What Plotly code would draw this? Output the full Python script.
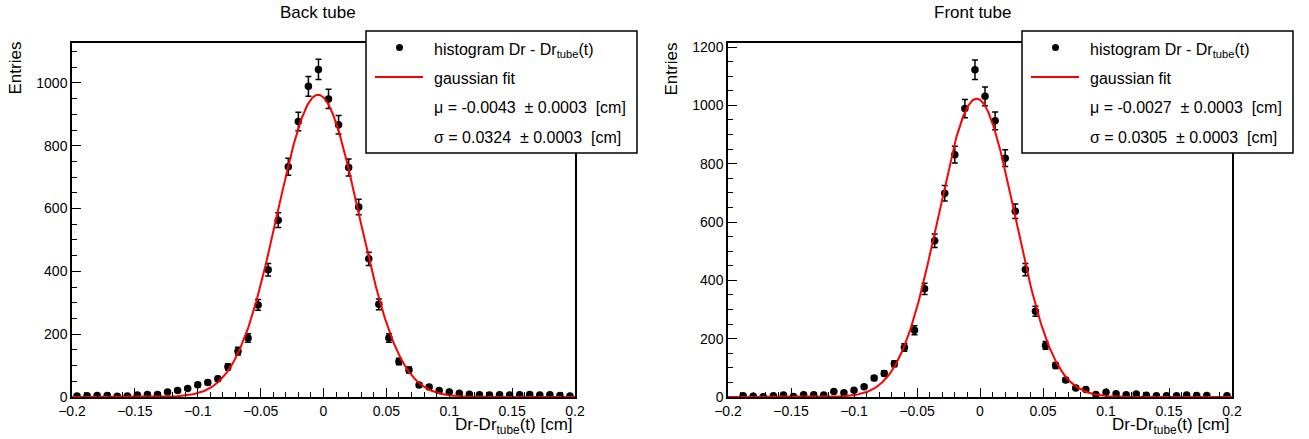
import numpy as np
import plotly.graph_objects as go

# ---------------- data ----------------
bin_edges_lo = -0.2
bin_width = 0.008
n_bins = 50
bin_centers = [round(bin_edges_lo + bin_width * (i + 0.5), 4) for i in range(n_bins)]

back_counts = [3, 4, 5, 5, 2, 3, 6, 8, 8, 16,
               21, 27, 39, 46, 58, 96, 146, 188, 293, 405,
               563, 733, 877, 989, 1043, 949, 867, 731, 605, 440,
               295, 188, 113, 86, 38, 32, 21, 16, 12, 9,
               7, 6, 7, 6, 7, 8, 6, 7, 5, 3]

front_counts = [0, 4, 3, 1, 4, 7, 2, 8, 8, 7,
                19, 15, 23, 35, 65, 81, 114, 170, 229, 371,
                536, 699, 831, 989, 1122, 1031, 947, 819, 637, 437,
                294, 177, 108, 58, 31, 26, 9, 16, 11, 8,
                10, 6, 4, 4, 4, 7, 5, 5, 0, 4]

# gaussian fit parameters (amplitude, mean, sigma)
back_fit = dict(amp=962.0, mu=-0.0043, sigma=0.0324, mu_err=0.0003, sigma_err=0.0003)
front_fit = dict(amp=1023.0, mu=-0.0027, sigma=0.0305, mu_err=0.0003, sigma_err=0.0003)

titles = ["Back tube", "Front tube"]
x_tickvals = [-0.2, -0.15, -0.1, -0.05, 0, 0.05, 0.1, 0.15, 0.2]
x_ticktext = ["\u22120.2", "\u22120.15", "\u22120.1", "\u22120.05", "0", "0.05", "0.1", "0.15", "0.2"]
y_tickvals_back = [0, 200, 400, 600, 800, 1000]
y_tickvals_front = [0, 200, 400, 600, 800, 1000, 1200]
y_max = [1127, 1214]

# ---------------- layout helpers ----------------
W, H = 1309, 439
FONT = "Liberation Sans, Arial, Helvetica, sans-serif"


def px(x):
    return x / W


def py(y):
    return 1 - y / H


frames = [(72, 575), (728, 1232)]
frame_top, frame_bot = 43, 397

fig = go.Figure()

datasets = [(back_counts, back_fit, y_tickvals_back), (front_counts, front_fit, y_tickvals_front)]
NBSP = "\u00a0"

for k, (counts, fit, ytv) in enumerate(datasets):
    xa = "x" if k == 0 else "x2"
    ya = "y" if k == 0 else "y2"
    yvals = [c if c > 0 else None for c in counts]
    errs = [float(np.sqrt(c)) for c in counts]
    fig.add_trace(go.Scatter(
        x=bin_centers, y=yvals, mode="markers",
        marker=dict(color="black", size=7.5),
        error_y=dict(type="data", array=errs, visible=True, color="black", thickness=1.5, width=3),
        xaxis=xa, yaxis=ya, showlegend=False, cliponaxis=True))
    xs = np.linspace(-0.2, 0.2, 801)
    ys = fit["amp"] * np.exp(-0.5 * ((xs - fit["mu"]) / fit["sigma"]) ** 2)
    fig.add_trace(go.Scatter(
        x=xs, y=ys, mode="lines", line=dict(color="red", width=2),
        xaxis=xa, yaxis=ya, showlegend=False))

    x0, x1 = frames[k]
    axis_common = dict(showline=True, mirror=True, linecolor="black", linewidth=1.5,
                       showgrid=False, zeroline=False, ticks="inside", tickcolor="black",
                       automargin=False,
                       tickfont=dict(family=FONT, size=14, color="black"))
    xaxis = dict(axis_common, domain=[px(x0), px(x1)], range=[-0.2, 0.2],
                 tickvals=x_tickvals, ticktext=x_ticktext, ticklen=9, tickwidth=1,
                 minor=dict(ticks="inside", dtick=0.01, tick0=0, ticklen=5, tickcolor="black", tickwidth=1),
                 anchor=ya)
    yaxis = dict(axis_common, domain=[py(frame_bot), py(frame_top)], range=[0, y_max[k]],
                 tickvals=ytv, ticklen=9, tickwidth=1,
                 minor=dict(ticks="inside", dtick=50, tick0=0, ticklen=5, tickcolor="black", tickwidth=1),
                 anchor=xa)
    if k == 0:
        fig.update_layout(xaxis=xaxis, yaxis=yaxis)
    else:
        fig.update_layout(xaxis2=xaxis, yaxis2=yaxis)

    # titles
    fig.add_annotation(text=titles[k], x=px([318, 973][k]), y=py(13), xref="paper", yref="paper",
                       showarrow=False, font=dict(family=FONT, size=17, color="black"),
                       xanchor="center", yanchor="middle")
    # y title
    fig.add_annotation(text="Entries", x=px(x0 - 57), y=py(40), xref="paper", yref="paper",
                       showarrow=False, textangle=-90, font=dict(family=FONT, size=17, color="black"),
                       xanchor="center", yanchor="top")
    # x title
    fig.add_annotation(text="Dr-Dr<sub>tube</sub>(t) [cm]", x=px(x1), y=py(426), xref="paper", yref="paper",
                       showarrow=False, font=dict(family=FONT, size=17, color="black"),
                       xanchor="right", yanchor="middle")

    # legend box
    lx0 = [366, 1022][k]
    lx1 = lx0 + 271
    fig.add_shape(type="rect", xref="paper", yref="paper",
                  x0=px(lx0), x1=px(lx1), y0=py(153), y1=py(31),
                  fillcolor="white", line=dict(color="black", width=1.5), layer="above")
    mx, my = lx0 + 33.5, 47.5
    fig.add_shape(type="circle", xref="paper", yref="paper",
                  x0=px(mx - 3.5), x1=px(mx + 3.5), y0=py(my + 3.5), y1=py(my - 3.5),
                  fillcolor="black", line=dict(color="black", width=0), layer="above")
    fig.add_shape(type="line", xref="paper", yref="paper",
                  x0=px(lx0 + 9), x1=px(lx0 + 57), y0=py(77), y1=py(77),
                  line=dict(color="red", width=2), layer="above")
    tx = lx0 + 66
    leg_texts = [
        "histogram Dr - Dr<sub>tube</sub>(t)",
        "gaussian fit",
        f"\u03bc = {fit['mu']:.4f}{NBSP}{NBSP}\u00b1 {fit['mu_err']:.4f}{NBSP}{NBSP}[cm]",
        f"\u03c3 = {fit['sigma']:.4f}{NBSP}{NBSP}\u00b1 {fit['sigma_err']:.4f}{NBSP}{NBSP}[cm]",
    ]
    for t, yy in zip(leg_texts, [50, 78, 108, 137]):
        fig.add_annotation(text=t, x=px(tx), y=py(yy), xref="paper", yref="paper",
                           showarrow=False, font=dict(family=FONT, size=16, color="black"),
                           xanchor="left", yanchor="middle")

fig.update_layout(width=W, height=H, margin=dict(l=0, r=0, t=0, b=0, autoexpand=False),
                  paper_bgcolor="white", plot_bgcolor="white", showlegend=False)

fig.write_html("out.html",
               config={"displayModeBar": False},
               post_script="document.body.style.margin='0px';document.body.style.padding='0px';"
                           "document.body.style.overflow='hidden';")
